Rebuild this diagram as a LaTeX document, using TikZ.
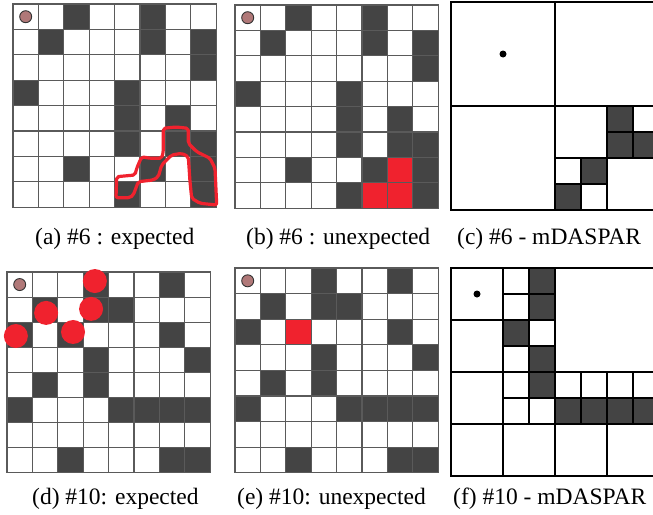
\documentclass[tikz,border=0pt]{standalone}
\usepackage{fontspec}
\setmainfont{Liberation Serif}
\usetikzlibrary{positioning}
\definecolor{cellgray}{HTML}{444444}
\definecolor{gridgray}{HTML}{5A5A5A}
\definecolor{markred}{HTML}{F0222E}
\definecolor{startpink}{HTML}{B07878}
\newcommand{\cellgrid}{%
  \draw[gridline] (0,0) rectangle (8,8);
  \foreach \i in {1,...,7} {\draw[gridline] (\i,0) -- (\i,8); \draw[gridline] (0,\i) -- (8,\i);}}

\begin{document}
\begin{tikzpicture}[x=1pt, y=-1pt,
  gridline/.style={gridgray, line width=1.2pt},
  qline/.style={black, line width=1.3pt},
  darkcell/.style={fill=cellgray},
  redcell/.style={fill=markred},
  startpt/.style={circle, fill=startpink, draw=black!80, line width=0.9pt, minimum size=12pt, inner sep=0pt},
  qdot/.style={circle, fill=black, minimum size=7pt, inner sep=0pt},
  redspot/.style={circle, fill=markred, minimum size=24pt, inner sep=0pt},
  redtrace/.style={markred, line width=3.2pt, rounded corners=2pt, line join=round},
  subcap/.style={anchor=base west, inner sep=0pt, font=\fontsize{23.5}{28}\selectfont}
]
\useasboundingbox (0,0) rectangle (653,514);
\fill[white] (0,0) rectangle (653,514);

% (a) expected, #6
\begin{scope}[shift={(13,4)}, x=25.4pt, y=-25.4pt]
\foreach \c/\r in {2/0,5/0,1/1,5/1,7/1,7/2,0/3,4/3,4/4,6/4,4/5,6/5,7/5,2/6,5/6,7/6,4/7,7/7}
  \fill[darkcell] (\c,\r) rectangle +(1,1);
\cellgrid
\node[startpt] (sa) at (0.5,0.5) {};
\end{scope}
\draw[redtrace] (163.3,128.3) -- (176,127) -- (188.3,128.3) -- (188.3,143.3) -- (196.7,151.7)
  -- (210,158.3) -- (215,168.3) -- (216.7,205) -- (200,203.3) -- (191.7,198.3) -- (190,181.7)
  -- (188.3,156.7) -- (181.7,153.3) -- (171.7,155) -- (161.7,165) -- (158.3,176.7) -- (153.3,180)
  -- (138.3,181.7) -- (133.3,195) -- (130,197.7) -- (116,197.7) -- (116.7,176.7) -- (135,175)
  -- (136.7,168.3) -- (141.7,156.7) -- (150,158.3) -- (161.7,158.3) -- (163.3,151.7) -- cycle;
\node[subcap] (capa) at (35,244) {(a) \#6 : expected};

% (b) unexpected, #6
\begin{scope}[shift={(235,5)}, x=25.4pt, y=-25.4pt]
\foreach \c/\r in {2/0,5/0,1/1,5/1,7/1,7/2,0/3,4/3,4/4,6/4,4/5,6/5,7/5,2/6,5/6,7/6,4/7,7/7}
  \fill[darkcell] (\c,\r) rectangle +(1,1);
\foreach \c/\r in {6/6,5/7,6/7}
  \fill[redcell] (\c,\r) rectangle +(1,1);
\cellgrid
\node[startpt] (sb) at (0.5,0.5) {};
\end{scope}
\node[subcap] (capb) at (246,244) {(b) \#6 : unexpected};

% (c) mDASPAR, #6
\begin{scope}[shift={(451,2)}, x=26pt, y=-26pt]
\foreach \c/\r in {6/4,6/5,7/5,5/6,4/7}
  \fill[darkcell] (\c,\r) rectangle +(1,1);
\draw[qline] (0,0) rectangle (8,8);
\draw[qline] (4,0) -- (4,8) (0,4) -- (8,4);
\draw[qline] (6,4) -- (6,8) (4,6) -- (8,6);
\draw[qline] (7,4) -- (7,6) (6,5) -- (8,5);
\draw[qline] (5,6) -- (5,8) (4,7) -- (6,7);
\node[qdot] (dc) at (2,2) {};
\end{scope}
\node[subcap] (capc) at (457,244) {(c) \#6 - mDASPAR};

% (d) expected, #10
\begin{scope}[shift={(7,272)}, x=25.4pt, y=-25.1pt]
\foreach \c/\r in {3/0,6/0,1/1,3/1,4/1,0/2,2/2,6/2,3/3,7/3,1/4,3/4,0/5,4/5,5/5,6/5,7/5,2/7,6/7,7/7}
  \fill[darkcell] (\c,\r) rectangle +(1,1);
\cellgrid
\node[startpt] (sd) at (0.5,0.5) {};
\node[redspot] (r1) at (3.46,0.36) {};
\node[redspot] (r2) at (1.54,1.63) {};
\node[redspot] (r3) at (3.31,1.47) {};
\node[redspot] (r4) at (0.35,2.55) {};
\node[redspot] (r5) at (2.6,2.39) {};
\end{scope}
\node[subcap] (capd) at (32,504) {(d) \#10: expected};

% (e) unexpected, #10
\begin{scope}[shift={(235,268)}, x=25.4pt, y=-25.6pt]
\foreach \c/\r in {3/0,6/0,1/1,3/1,4/1,0/2,6/2,3/3,7/3,1/4,3/4,0/5,4/5,5/5,6/5,7/5,2/7,6/7,7/7}
  \fill[darkcell] (\c,\r) rectangle +(1,1);
\fill[redcell] (2,2) rectangle +(1,1);
\cellgrid
\node[startpt] (se) at (0.5,0.5) {};
\end{scope}
\node[subcap] (cape) at (237,504) {(e) \#10: unexpected};

% (f) mDASPAR, #10
\begin{scope}[shift={(451,268)}, x=26pt, y=-26pt]
\foreach \c/\r in {3/0,3/1,2/2,3/3,3/4,4/5,5/5,6/5,7/5}
  \fill[darkcell] (\c,\r) rectangle +(1,1);
\draw[qline] (0,0) rectangle (8,8);
\draw[qline] (4,0) -- (4,8) (0,4) -- (8,4);
\draw[qline] (2,0) -- (2,4) (0,2) -- (4,2);
\draw[qline] (3,0) -- (3,2) (2,1) -- (4,1);
\draw[qline] (3,2) -- (3,4) (2,3) -- (4,3);
\draw[qline] (2,4) -- (2,8) (0,6) -- (4,6);
\draw[qline] (3,4) -- (3,6) (2,5) -- (4,5);
\draw[qline] (6,4) -- (6,8) (4,6) -- (8,6);
\draw[qline] (5,4) -- (5,6) (4,5) -- (6,5);
\draw[qline] (7,4) -- (7,6) (6,5) -- (8,5);
\node[qdot] (df) at (1,1) {};
\end{scope}
\node[subcap] (capf) at (453,504) {(f) \#10 - mDASPAR};
\end{tikzpicture}
\end{document}
